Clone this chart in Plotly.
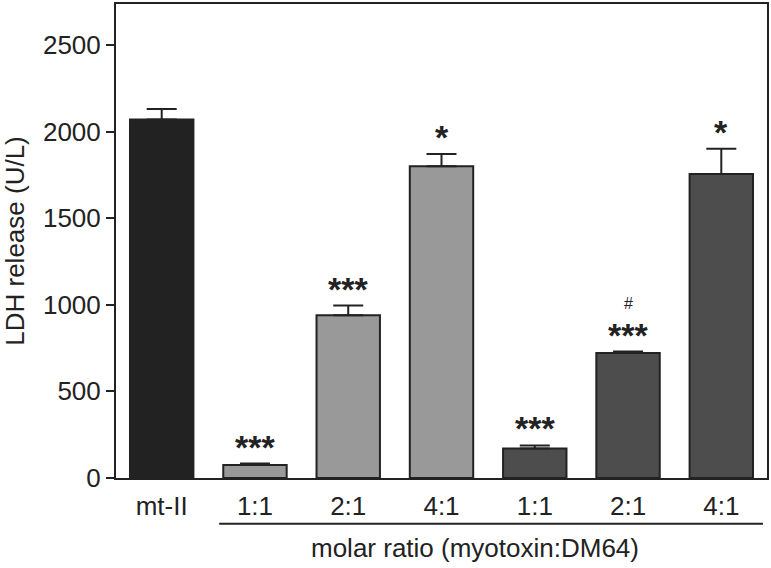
import plotly.graph_objects as go

labels = ["mt-II", "1:1", "2:1", "4:1", "1:1", "2:1", "4:1"]
values = [2070, 75, 940, 1800, 170, 722, 1755]
errors = [60, 8, 55, 70, 18, 8, 145]
signif = ["", "***", "***", "*", "***", "***", "*"]
hash_marks = ["", "", "", "", "", "#", ""]
colors = ["#222222", "#999999", "#999999", "#999999", "#4d4d4d", "#4d4d4d", "#4d4d4d"]
y_ticks = [0, 500, 1000, 1500, 2000, 2500]

xpos = list(range(len(labels)))
FONT = "Liberation Sans, Arial, sans-serif"
INK = "#222222"
FS = 26

fig = go.Figure()
fig.add_trace(go.Bar(
    x=xpos, y=values, width=0.68,
    marker=dict(color=colors, line=dict(color=INK, width=2)),
    error_y=dict(type="data", array=errors, arrayminus=[0] * len(errors),
                 symmetric=False, color=INK, thickness=2, width=15),
    showlegend=False,
))

for i in xpos:
    top = values[i] + errors[i]
    if signif[i]:
        fig.add_annotation(x=i, y=top, text="<b>" + signif[i] + "</b>", showarrow=False,
                           yanchor="bottom", yshift=-4,
                           font=dict(family=FONT, size=34, color=INK))
    if hash_marks[i]:
        fig.add_annotation(x=i, y=top, text=hash_marks[i], showarrow=False,
                           yanchor="bottom", yshift=38,
                           font=dict(family=FONT, size=16, color=INK))

# line grouping the molar ratio categories
fig.add_shape(type="line", xref="x", yref="paper", x0=0.616, x1=6.447,
              y0=-0.0966, y1=-0.0966, line=dict(color=INK, width=2))
fig.add_annotation(xref="paper", yref="paper", x=0.551, y=-0.147,
                   text="molar ratio (myotoxin:DM64)", showarrow=False,
                   yanchor="middle", font=dict(family=FONT, size=FS, color=INK))

fig.update_layout(
    width=771, height=568,
    margin=dict(l=116, r=4, t=2, b=90),
    paper_bgcolor="white", plot_bgcolor="white",
    font=dict(family=FONT, size=FS, color=INK),
    xaxis=dict(range=[-0.49, 6.49], tickvals=xpos, ticktext=labels,
               showline=True, linecolor=INK, linewidth=2, mirror=True,
               ticks="", showgrid=False, zeroline=False, ticklabelstandoff=4,
               tickfont=dict(family=FONT, size=FS, color=INK)),
    yaxis=dict(range=[0, 2736], tickvals=y_ticks,
               showline=True, linecolor=INK, linewidth=2, mirror=True,
               ticks="outside", ticklen=8, tickwidth=2, tickcolor=INK,
               showgrid=False, zeroline=False,
               title=dict(text="LDH release (U/L)", standoff=20,
                          font=dict(family=FONT, size=FS, color=INK)),
               tickfont=dict(family=FONT, size=FS, color=INK)),
)

fig.write_html("out.html", config={"displayModeBar": False},
               post_script="document.body.style.margin='0';")
